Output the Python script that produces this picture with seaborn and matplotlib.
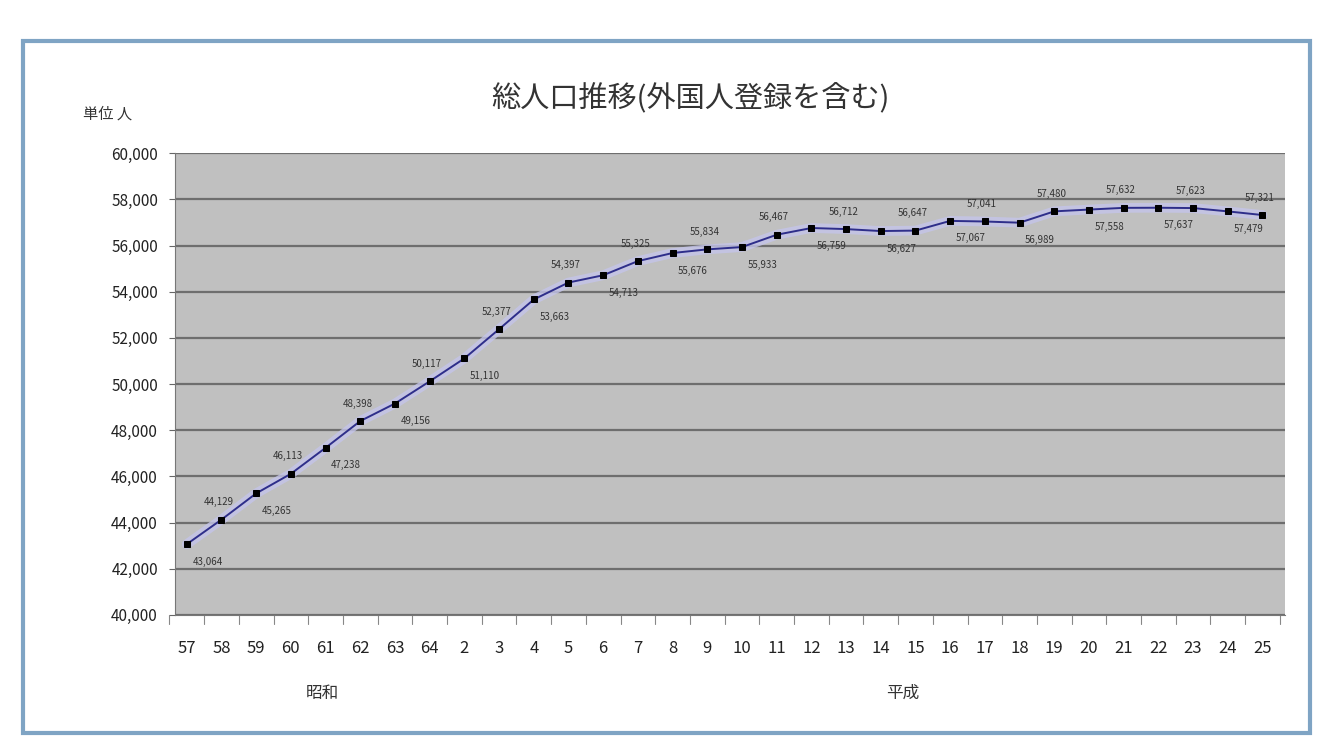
import matplotlib
matplotlib.use('Agg')
import matplotlib.pyplot as plt
import seaborn as sns
import pandas as pd
from matplotlib.patches import Rectangle

years = ['57', '58', '59', '60', '61', '62', '63', '64',
         '2', '3', '4', '5', '6', '7', '8', '9', '10', '11', '12', '13',
         '14', '15', '16', '17', '18', '19', '20', '21', '22', '23', '24', '25']
population = [43064, 44129, 45265, 46113, 47238, 48398, 49156, 50117,
              51110, 52377, 53663, 54397, 54713, 55325, 55676, 55834,
              55933, 56467, 56759, 56712, 56627, 56647, 57067, 57041,
              56989, 57480, 57558, 57632, 57637, 57623, 57479, 57321]
y_ticks = [40000, 42000, 44000, 46000, 48000, 50000, 52000, 54000, 56000, 58000, 60000]

df = pd.DataFrame({'pos': range(len(years)), 'pop': population})

sns.set_style('white')
plt.rcParams['font.family'] = ['Noto Sans CJK JP', 'DejaVu Sans']

fig = plt.figure(figsize=(13.33, 7.4), dpi=100)
fig.patch.set_facecolor('white')
# chart area frame
fig.patches.append(Rectangle((0.017, 0.01), 0.966, 0.935, transform=fig.transFigure,
                             fill=False, edgecolor='#7fa4c4', linewidth=3))

ax = fig.add_axes([0.131, 0.169, 0.833, 0.624])
ax.set_facecolor('#c0c0c0')

# soft halo under the series line
sns.lineplot(data=df, x='pos', y='pop', ax=ax, color='#c4c4ea', linewidth=7,
             alpha=0.8, zorder=2)
sns.lineplot(data=df, x='pos', y='pop', ax=ax, color='#2e2e8a', linewidth=1.4,
             marker='s', markersize=4, markerfacecolor='black',
             markeredgecolor='black', zorder=3)

for i, v in enumerate(population):
    if i % 2 == 0:
        ax.annotate(f'{v:,}', (i, v), xytext=(4, -9), textcoords='offset points',
                    ha='left', va='top', fontsize=7, color='#333333')
    else:
        ax.annotate(f'{v:,}', (i, v), xytext=(-2, 9), textcoords='offset points',
                    ha='center', va='bottom', fontsize=7, color='#333333')

ax.set_ylim(40000, 60000)
ax.set_yticks(y_ticks)
ax.set_yticklabels([f'{t:,}' for t in y_ticks], fontsize=11, color='#222222')
ax.yaxis.grid(True, color='#6e6e6e', linewidth=1.6)
ax.set_axisbelow(True)

ax.set_xlim(-0.35, len(years) - 0.35)
ax.set_xticks(range(len(years)))
ax.set_xticklabels(years, fontsize=12, color='#222222')
ax.tick_params(axis='x', length=0, pad=18)
ax.tick_params(axis='y', length=4, color='#666666', left=True, pad=8)
ax.set_xlabel('')
ax.set_ylabel('')

for s in ax.spines.values():
    s.set_visible(False)
ax.spines['left'].set_visible(True)
ax.spines['left'].set_color('#777777')
ax.spines['bottom'].set_visible(True)
ax.spines['bottom'].set_color('#777777')

# small category separators below the axis
for i in range(len(years) + 1):
    ax.plot([i - 0.5, i - 0.5], [40000, 39600], color='#888888', linewidth=0.8,
            clip_on=False)

fig.text(0.518, 0.868, '総人口推移(外国人登録を含む)', ha='center', va='center',
         fontsize=21, color='#333333')
fig.text(0.062, 0.846, '単位 人', ha='left', va='center', fontsize=11, color='#333333')
fig.text(0.242, 0.063, '昭和', ha='center', va='center', fontsize=12, color='#333333')
fig.text(0.677, 0.063, '平成', ha='center', va='center', fontsize=12, color='#333333')

fig.savefig('out.png', dpi=100)
